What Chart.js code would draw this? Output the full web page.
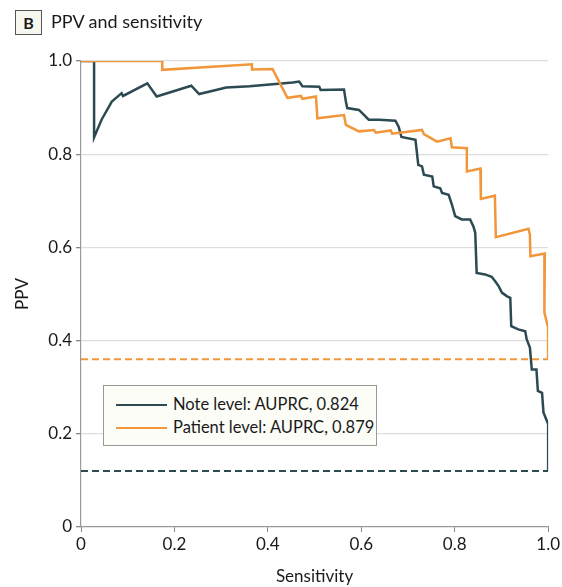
<!DOCTYPE html>
<html>
<head>
<meta charset="utf-8">
<script src="https://cdn.jsdelivr.net/npm/chart.js@4/dist/chart.umd.min.js"></script>
<style>
  html, body { margin: 0; padding: 0; background: #ffffff; }
  #wrap { position: relative; width: 562px; height: 587px; font-family: Lato, "Open Sans", sans-serif; color: #1a1a1a; }
  #c { position: absolute; left: 0; top: 0; }
  #titleBox { position: absolute; left: 15px; top: 10px; width: 25px; height: 23px; border: 1px solid #555; background: #f7f7f0; font-weight: bold; font-size: 16px; line-height: 23px; text-align: center; }
  #titleText { position: absolute; left: 51px; top: 9px; font-size: 18px; line-height: 24px; white-space: nowrap; }
  #legend { position: absolute; left: 103px; top: 385px; width: 272px; height: 59px; border: 1px solid #999; background: #fdfdf8; }
  .row { position: absolute; left: 0; height: 22px; white-space: nowrap; font-size: 16.5px; line-height: 22px; }
  .sw { position: absolute; left: 12px; width: 51px; height: 0; border-top: 2.5px solid; }
  .lbl { position: absolute; left: 69px; top: 0; }
</style>
</head>
<body>
<div id="wrap">
  <canvas id="c" width="562" height="587"></canvas>
  <div id="titleBox">B</div>
  <div id="titleText">PPV and sensitivity</div>
  <div id="legend">
    <div class="row" style="top:7px;"><div class="sw" id="sw1" style="top:11px;"></div><span class="lbl" id="lb1"></span></div>
    <div class="row" style="top:30px;"><div class="sw" id="sw2" style="top:11px;"></div><span class="lbl" id="lb2"></span></div>
  </div>
</div>
<script>
// ---- data ----
const seriesNames = ["Note level: AUPRC, 0.824", "Patient level: AUPRC, 0.879"];
const tickValues = [0, 0.2, 0.4, 0.6, 0.8, 1.0];

const noteSens = [0, 0.028, 0.028, 0.044, 0.066, 0.087, 0.090, 0.142, 0.162, 0.236, 0.253, 0.311, 0.361, 0.453, 0.467, 0.474, 0.510, 0.513, 0.563, 0.567, 0.570, 0.595, 0.616, 0.638, 0.673, 0.680, 0.686, 0.716, 0.722, 0.730, 0.734, 0.752, 0.755, 0.769, 0.773, 0.787, 0.794, 0.801, 0.815, 0.833, 0.840, 0.844, 0.847, 0.865, 0.879, 0.887, 0.894, 0.901, 0.912, 0.919, 0.921, 0.936, 0.951, 0.954, 0.961, 0.965, 0.975, 0.978, 0.987, 0.990, 1.0, 1.0];
const notePPV  = [1.0, 1.0, 0.836, 0.874, 0.913, 0.931, 0.925, 0.952, 0.924, 0.947, 0.929, 0.943, 0.946, 0.954, 0.956, 0.946, 0.945, 0.938, 0.939, 0.913, 0.899, 0.895, 0.874, 0.874, 0.872, 0.859, 0.837, 0.831, 0.777, 0.774, 0.756, 0.752, 0.731, 0.727, 0.717, 0.713, 0.692, 0.667, 0.660, 0.660, 0.645, 0.631, 0.545, 0.542, 0.537, 0.527, 0.517, 0.503, 0.495, 0.492, 0.431, 0.424, 0.420, 0.403, 0.385, 0.338, 0.338, 0.292, 0.288, 0.246, 0.221, 0.120];

const patSens = [0, 0.174, 0.174, 0.366, 0.366, 0.410, 0.442, 0.471, 0.474, 0.503, 0.506, 0.563, 0.567, 0.595, 0.627, 0.631, 0.663, 0.666, 0.730, 0.734, 0.762, 0.791, 0.794, 0.826, 0.826, 0.855, 0.856, 0.886, 0.888, 0.958, 0.961, 0.962, 0.993, 0.992, 1.0, 1.0];
const patPPV  = [1.0, 1.0, 0.981, 0.993, 0.982, 0.983, 0.921, 0.925, 0.919, 0.924, 0.877, 0.884, 0.863, 0.849, 0.852, 0.846, 0.851, 0.844, 0.852, 0.843, 0.827, 0.834, 0.815, 0.813, 0.763, 0.769, 0.704, 0.711, 0.622, 0.640, 0.627, 0.581, 0.587, 0.460, 0.428, 0.361];

const noteBaseline = 0.12;
const patientBaseline = 0.36;

// ---- style ----
const darkColor = "#2c4a52";
const orangeColor = "#f2963a";
const FONT = "Lato, 'Open Sans', sans-serif";

function pts(xs, ys) { return xs.map((x, i) => ({ x: x, y: ys[i] })); }
function fmt(v) { return v === 0 ? "0" : v.toFixed(1); }

document.getElementById("sw1").style.borderColor = darkColor;
document.getElementById("sw2").style.borderColor = orangeColor;
document.getElementById("lb1").textContent = seriesNames[0];
document.getElementById("lb2").textContent = seriesNames[1];

const ctx = document.getElementById("c").getContext("2d");
new Chart(ctx, {
  type: "scatter",
  data: {
    datasets: [
      { label: "Note baseline", data: [{x: 0, y: noteBaseline}, {x: 1, y: noteBaseline}], showLine: true, borderColor: darkColor, borderWidth: 2, borderDash: [7, 4], pointRadius: 0, fill: false },
      { label: "Patient baseline", data: [{x: 0, y: patientBaseline}, {x: 1, y: patientBaseline}], showLine: true, borderColor: orangeColor, borderWidth: 2, borderDash: [7, 4], pointRadius: 0, fill: false },
      { label: seriesNames[1], data: pts(patSens, patPPV), showLine: true, borderColor: orangeColor, borderWidth: 2.5, pointRadius: 0, tension: 0, fill: false },
      { label: seriesNames[0], data: pts(noteSens, notePPV), showLine: true, borderColor: darkColor, borderWidth: 2.5, pointRadius: 0, tension: 0, fill: false }
    ]
  },
  options: {
    responsive: false,
    animation: false,
    layout: { padding: { top: 61, right: 12, left: 0, bottom: 0 } },
    plugins: { legend: { display: false }, tooltip: { enabled: false }, title: { display: false } },
    scales: {
      x: {
        type: "linear", min: 0, max: 1,
        afterBuildTicks: (s) => { s.ticks = tickValues.map(v => ({ value: v })); },
        afterFit: (s) => { s.height = 60; },
        ticks: { callback: (v) => fmt(v), color: "#1a1a1a", font: { family: FONT, size: 17 }, padding: 2, maxRotation: 0 },
        grid: { drawOnChartArea: false, drawTicks: true, tickLength: 5, tickColor: "#888" },
        border: { color: "#999", width: 1.2 },
        title: { display: true, text: "Sensitivity", color: "#1a1a1a", font: { family: FONT, size: 17 }, padding: { top: 4, bottom: 0 } }
      },
      y: {
        type: "linear", min: 0, max: 1,
        afterBuildTicks: (s) => { s.ticks = tickValues.map(v => ({ value: v })); },
        afterFit: (s) => { s.width = 81; },
        ticks: { callback: (v) => fmt(v), color: "#1a1a1a", font: { family: FONT, size: 17 }, padding: 4 },
        grid: { color: (c) => c.tick && c.tick.value === 0 ? "rgba(0,0,0,0)" : "#dddddd", lineWidth: 1.3, drawTicks: true, tickLength: 5, tickColor: "#888" },
        border: { color: "#999", width: 1.2 },
        title: { display: true, text: "PPV", color: "#1a1a1a", font: { family: FONT, size: 17 }, padding: { top: 12, bottom: 0 } }
      }
    }
  }
});
</script>
</body>
</html>
